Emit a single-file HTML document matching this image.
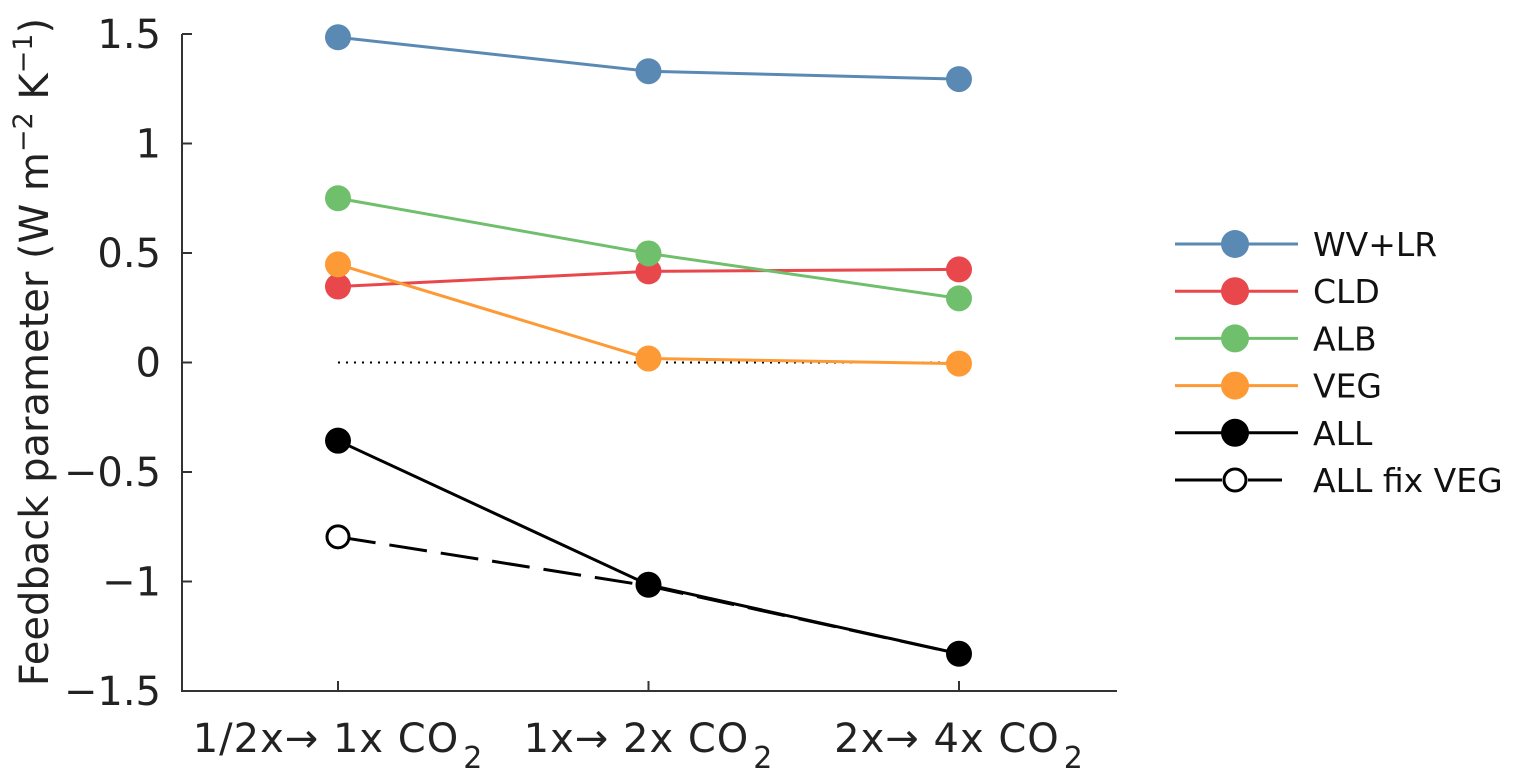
<!DOCTYPE html>
<html><head><meta charset="utf-8"><style>
html,body{margin:0;padding:0;background:#fff;}
svg{display:block;font-family:"DejaVu Sans","Liberation Sans",sans-serif;}
</style></head><body>
<svg id="chart" width="1519" height="771" viewBox="0 0 1519 771">
<g id="axes"></g>
<g id="marks"></g>
<g id="legend"></g>
<text transform="translate(48,352) rotate(-90)" text-anchor="middle" font-size="40" fill="#222">Feedback parameter (W m<tspan dy="-16" font-size="27">−2</tspan><tspan dy="16"> K</tspan><tspan dy="-16" font-size="27">−1</tspan><tspan dy="16">)</tspan></text>
</svg>
<script>
const categories = ["1/2x→ 1x CO", "1x→ 2x CO", "2x→ 4x CO"];
const yTicks = [1.5, 1, 0.5, 0, -0.5, -1, -1.5];
const yTickLabels = ["1.5", "1", "0.5", "0", "−0.5", "−1", "−1.5"];
const seriesNames = ["WV+LR", "CLD", "ALB", "VEG", "ALL", "ALL fix VEG"];
const wvlr = [1.485, 1.33, 1.294];
const cld = [0.347, 0.416, 0.425];
const alb = [0.75, 0.498, 0.293];
const veg = [0.448, 0.018, -0.005];
const all = [-0.357, -1.015, -1.33];
const allFixVeg = [-0.796, -1.02, -1.33];

const NS = "http://www.w3.org/2000/svg";
function yS(v){ return 362.5 - v * 219; }
function xS(i){ return 338 + i * 310.5; }
function mk(parent, tag, attrs){
  const e = document.createElementNS(NS, tag);
  for (const k in attrs) e.setAttribute(k, attrs[k]);
  parent.appendChild(e); return e;
}
const axes = document.getElementById('axes');
const marks = document.getElementById('marks');
const legend = document.getElementById('legend');

let a = mk(axes, 'line', {x1:182, y1:34, x2:182, y2:691, stroke:'#333', 'stroke-width':2});


a = mk(axes, 'line', {x1:181, y1:691, x2:1117, y2:691, stroke:'#333', 'stroke-width':2});



yTicks.forEach((v, i) => {
  const y = yS(v);
  const t = mk(axes, 'line', {x1:182, y1:y, x2:192, y2:y, stroke:'#333', 'stroke-width':2});
  
  
  const l = mk(axes, 'text', {x:161, y:y + 14, 'text-anchor':'end', 'font-size':40, fill:'#222'});
  
  
  l.textContent = yTickLabels[i];
});
categories.forEach((c, i) => {
  const x = xS(i);
  const t = mk(axes, 'line', {x1:x, y1:691, x2:x, y2:681, stroke:'#333', 'stroke-width':2});
  
  
  const l = mk(axes, 'text', {x:x, y:752, 'text-anchor':'middle', 'font-size':40, fill:'#222', 'letter-spacing':'1'});
  
  
  l.textContent = c;
  const s = document.createElementNS(NS, 'tspan');
  s.setAttribute('dx', '4'); s.setAttribute('dy', '16'); s.setAttribute('font-size', '30');
  s.textContent = '2';
  l.appendChild(s);
});

const z = mk(marks, 'line', {x1:xS(0), y1:yS(0), x2:xS(2), y2:yS(0), stroke:'#000', 'stroke-width':2, 'stroke-dasharray':'2,6'});



const series = [
  {name:'wv-lr', data:wvlr, color:'#5a8ab4', dash:null, open:false},
  {name:'cld', data:cld, color:'#e8474b', dash:null, open:false},
  {name:'alb', data:alb, color:'#70bf6d', dash:null, open:false},
  {name:'veg', data:veg, color:'#fd9a35', dash:null, open:false},
  {name:'all-fix-veg', data:allFixVeg, color:'#000', dash:'38,14', open:true},
  {name:'all', data:all, color:'#000', dash:null, open:false}
];
series.forEach(s => {
  const pts = s.data.map((v, i) => xS(i) + ',' + yS(v)).join(' ');
  const attrs = {points:pts, fill:'none', stroke:s.color, 'stroke-width':3};
  if (s.dash) attrs['stroke-dasharray'] = s.dash;
  const pl = mk(marks, 'polyline', attrs);
  
  
});
series.forEach(s => {
  s.data.forEach((v, i) => {
    const c = mk(marks, 'circle', s.open
      ? {cx:xS(i), cy:yS(v), r:11, fill:'#fff', stroke:'#000', 'stroke-width':3}
      : {cx:xS(i), cy:yS(v), r:13, fill:s.color});
    if (s.open && i > 0) c.setAttribute('visibility', 'hidden');
    
    
  });
});

const legColors = ['#5a8ab4', '#e8474b', '#70bf6d', '#fd9a35', '#000', '#000'];
seriesNames.forEach((n, i) => {
  const y = 244 + i * 47.2;
  const g = mk(legend, 'g', {});
  
  
  if (i === 5) {
    mk(g, 'line', {x1:1175, y1:y, x2:1222, y2:y, stroke:'#000', 'stroke-width':3});
    mk(g, 'line', {x1:1248, y1:y, x2:1282, y2:y, stroke:'#000', 'stroke-width':3});
    mk(g, 'circle', {cx:1235, cy:y, r:11, fill:'#fff', stroke:'#000', 'stroke-width':3});
  } else {
    mk(g, 'line', {x1:1175, y1:y, x2:1298, y2:y, stroke:legColors[i], 'stroke-width':3});
    mk(g, 'circle', {cx:1235, cy:y, r:14, fill:legColors[i]});
  }
  const t = mk(g, 'text', {x:1313, y:y + 12, 'font-size':33, fill:'#111'});
  t.textContent = n;
});
</script>
</body></html>
